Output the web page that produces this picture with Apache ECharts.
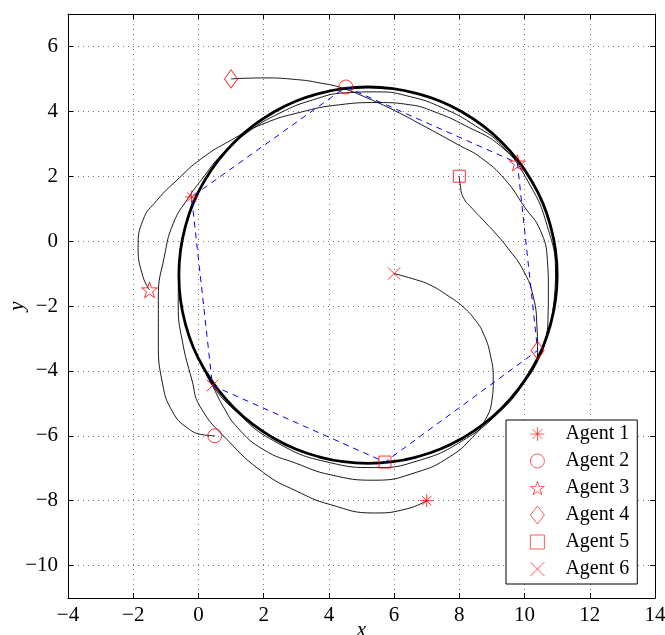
<!DOCTYPE html>
<html>
<head>
<meta charset="utf-8">
<script src="https://cdn.jsdelivr.net/npm/echarts@6/dist/echarts.min.js"></script>
<style>
  html, body { margin: 0; padding: 0; background: #fff; }
  #main { width: 665px; height: 635px; }
</style>
</head>
<body>
<div id="main"></div>
<script>
// agents: where they start and where they end up on the circle
const agentNames = ['Agent 1', 'Agent 2', 'Agent 3', 'Agent 4', 'Agent 5', 'Agent 6'];
const startPositions = [[7, -8], [0.5, -6], [-1.5, -1.5], [1, 5], [8, 2], [6, -1]];
const finalPositions = [[-0.21, 1.36], [4.52, 4.75], [9.78, 2.41], [10.4, -3.37], [5.72, -6.81], [0.43, -4.45]];
// order of the dashed formation polygon (indexes into finalPositions)
const formationOrder = [1, 2, 3, 4, 5, 0, 1];

// trajectories
const trajAgent1 = [[7, -8], [6.4, -8.25], [5.4, -8.38], [4.04, -8.12], [3.0, -7.7], [2.0, -7.14], [0.88, -6.12], [0.05, -5.1], [-0.2, -4.28], [-0.5, -3.05], [-0.62, -2.0], [-0.6, -1.05], [-0.4, 0.45], [0.18, 1.85], [1.1, 3.05]];
const trajAgent2 = [[0.5, -6], [0.15, -5.97], [-0.35, -5.75], [-0.8, -5.25], [-1.1, -4.4], [-1.23, -3.05], [-1.23, -1.72], [-1.05, -0.5], [-0.77, 0.55], [-0.3, 1.35], [0.1, 1.9], [0.7, 2.65], [1.5, 3.35], [2.5, 3.95], [3.5, 4.35], [4.5, 4.57], [5.5, 4.6], [6.5, 4.45], [7.5, 4.1], [8.5, 3.55], [9.3, 2.95], [10.1, 1.85], [10.7, 0.45], [10.95, -1.05], [10.8, -2.55]];
const trajAgent3 = [[-1.5, -1.5], [-1.7, -1.1], [-1.85, -0.2], [-1.7, 0.65], [-1.27, 1.26], [-0.66, 1.88], [0.1, 2.55], [0.98, 3.1], [2.0, 3.62], [3.12, 3.97], [4.3, 4.2], [5.5, 4.27], [6.5, 4.2], [7.2, 4.0], [8.2, 3.55], [9.3, 2.9], [10.22, 1.8], [10.8, 0.45], [11.0, -1.05]];
const trajAgent4 = [[1, 5], [2, 5.03], [3, 4.98], [3.7, 4.88], [4.4, 4.72], [5.2, 4.4], [6, 4.03], [7, 3.5], [8, 2.95], [8.65, 2.58], [9.4, 1.9], [10.0, 1.05], [10.48, 0.34], [10.7, -0.6], [10.73, -1.5], [10.72, -2.3], [10.65, -3.0], [10.45, -3.6], [10.0, -4.35], [9.3, -5.2], [8.1, -6.15], [6.7, -6.78], [5.4, -6.98], [4.04, -6.83], [2.3, -6.15], [1.1, -5.2], [0.43, -4.45], [0.18, -3.95]];
const trajAgent5 = [[8, 2], [8.02, 1.78], [8.12, 1.35], [8.4, 1.0], [8.73, 0.65], [9.1, 0.25], [9.46, -0.18], [9.96, -0.9], [10.27, -1.72], [10.38, -2.65], [10.4, -3.37], [10.22, -3.95], [9.3, -5.15], [8.1, -6.07]];
const trajAgent6 = [[6, -1], [6.7, -1.2], [7.1, -1.35], [7.6, -1.65], [8.12, -2.03], [8.5, -2.45], [8.73, -2.83], [8.95, -3.5], [9.04, -4.3], [9.0, -4.9], [8.8, -5.5], [8.4, -6.05], [7.7, -6.65], [6.7, -7.12], [5.4, -7.37], [4.04, -7.2], [3.0, -6.85], [2.0, -6.43], [1.2, -5.75], [0.76, -5.1], [0.43, -4.45], [0.18, -3.95]];
const trajectories = [trajAgent1, trajAgent2, trajAgent3, trajAgent4, trajAgent5, trajAgent6];

// the circle all of them end up orbiting (points read around it)
const limitCycle = [
  [10.56, -3.27], [10.8, -2.55], [10.95, -1.81], [11.0, -1.05], [10.95, -0.29], [10.8, 0.45], [10.56, 1.17],
  [10.22, 1.85], [9.8, 2.48], [9.3, 3.05], [8.73, 3.55], [8.1, 3.97], [7.42, 4.31], [6.7, 4.55], [5.96, 4.7],
  [5.2, 4.75], [4.44, 4.7], [3.7, 4.55], [2.98, 4.31], [2.3, 3.97], [1.67, 3.55], [1.1, 3.05], [0.6, 2.48],
  [0.18, 1.85], [-0.16, 1.17], [-0.4, 0.45], [-0.55, -0.29], [-0.6, -1.05], [-0.55, -1.81], [-0.4, -2.55],
  [-0.16, -3.27], [0.18, -3.95], [0.6, -4.58], [1.1, -5.15], [1.67, -5.65], [2.3, -6.07], [2.98, -6.41],
  [3.7, -6.65], [4.44, -6.8], [5.2, -6.85], [5.96, -6.8], [6.7, -6.65], [7.42, -6.41], [8.1, -6.07],
  [8.73, -5.65], [9.3, -5.15], [9.8, -4.58], [10.22, -3.95], [10.56, -3.27], [10.8, -2.55], [10.95, -1.81]
];

const yTicks = [-10, -8, -6, -4, -2, 0, 2, 4, 6];

// marker styles
const markerSymbols = [
  'path://M5,0L5,10M0,5L10,5M1.46,1.46L8.54,8.54M8.54,1.46L1.46,8.54',
  'circle',
  'path://M50,0L61.23,34.55L97.55,34.55L68.16,55.9L79.39,90.45L50,69.1L20.61,90.45L31.84,55.9L2.45,34.55L38.77,34.55Z',
  'diamond',
  'path://M0,0L10,0L10,10L0,10Z',
  'path://M0,0L10,10M10,0L0,10'
];
const markerSizes = [13, 14, 16, [13, 18], 12, 12];

const FONT = 'Liberation Serif';
const minus = v => String(v).replace('-', '\u2212');

const chart = echarts.init(document.getElementById('main'));

const series = [];
series.push({
  type: 'line', name: 'cycle', data: limitCycle, smooth: 0.5, symbol: 'none',
  lineStyle: { color: '#000', width: 2.8 }, z: 2, silent: true
});
trajectories.forEach((t, i) => {
  series.push({
    type: 'line', name: 'traj' + (i + 1), data: t, smooth: 0.5, symbol: 'none',
    lineStyle: { color: '#000', width: 0.9 }, z: 2, silent: true
  });
});
series.push({
  type: 'line', name: 'formation', data: formationOrder.map(k => finalPositions[k]), symbol: 'none',
  lineStyle: { color: '#0000ff', width: 1, type: [6, 5] }, z: 3, silent: true
});
agentNames.forEach((n, i) => {
  series.push({
    type: 'scatter', name: n, data: [startPositions[i], finalPositions[i]],
    symbol: markerSymbols[i], symbolSize: markerSizes[i],
    itemStyle: { color: 'transparent', borderColor: '#ff0000', borderWidth: 1 }, z: 5
  });
});

const option = {
  animation: false,
  backgroundColor: '#fff',
  grid: { left: 68, right: 10, top: 14, bottom: 37, outerBoundsMode: 'none', containLabel: false },
  legend: {
    data: agentNames.map((n, i) => ({ name: n, icon: markerSymbols[i] })),
    orient: 'vertical', left: 506, top: 420,
    itemWidth: 14, itemHeight: 18, itemGap: 7,
    padding: [4, 8, 5, 24],
    backgroundColor: '#fff', borderColor: '#000', borderWidth: 1, borderRadius: 0,
    itemStyle: { borderWidth: 0.8 },
    textStyle: { fontFamily: FONT, fontSize: 20, color: '#000', padding: [0, 0, 0, 16] }
  },
  xAxis: [{
    type: 'value', min: -4, max: 14, interval: 2,
    name: 'x', nameLocation: 'middle', nameGap: 22, nameMoveOverlap: false,
    nameTextStyle: { fontFamily: FONT, fontSize: 21, fontStyle: 'italic', color: '#000' },
    axisLine: { onZero: false, lineStyle: { color: '#000', width: 1 } },
    axisTick: { inside: true, length: 5, lineStyle: { color: '#000' } },
    axisLabel: { fontFamily: FONT, fontSize: 21, color: '#000', margin: 7, formatter: minus },
    splitLine: { show: true, lineStyle: { color: '#777', width: 1, type: [1, 4] } }
  }, {
    type: 'value', position: 'top', min: -4, max: 14, interval: 2,
    axisLine: { onZero: false, lineStyle: { color: '#000', width: 1 } },
    axisTick: { inside: true, length: 5, lineStyle: { color: '#000' } },
    axisLabel: { show: false }, splitLine: { show: false }
  }],
  yAxis: [{
    type: 'value', min: -11, max: 7,
    name: 'y', nameLocation: 'middle', nameGap: 40, nameRotate: 90, nameMoveOverlap: false,
    nameTextStyle: { fontFamily: FONT, fontSize: 21, fontStyle: 'italic', color: '#000' },
    axisLine: { onZero: false, lineStyle: { color: '#000', width: 1 } },
    axisTick: { inside: true, length: 5, lineStyle: { color: '#000' }, customValues: yTicks },
    axisLabel: { fontFamily: FONT, fontSize: 21, color: '#000', margin: 10, formatter: minus, customValues: yTicks },
    splitLine: { show: true, lineStyle: { color: '#777', width: 1, type: [1, 4] } }
  }, {
    type: 'value', position: 'right', min: -11, max: 7,
    axisLine: { onZero: false, lineStyle: { color: '#000', width: 1 } },
    axisTick: { inside: true, length: 5, lineStyle: { color: '#000' }, customValues: yTicks },
    axisLabel: { show: false }, splitLine: { show: false }
  }],
  series: series
};

chart.setOption(option);
</script>
</body>
</html>
